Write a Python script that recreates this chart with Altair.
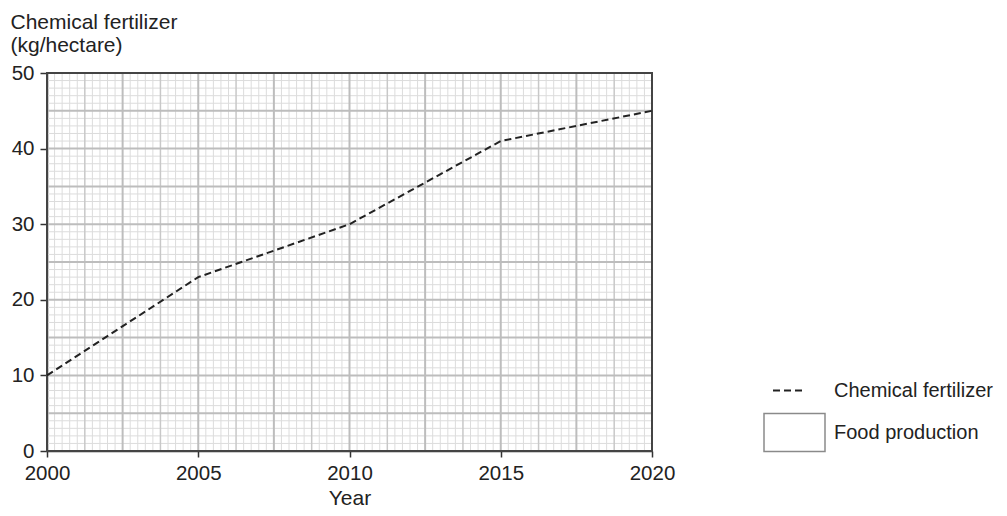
import altair as alt
import pandas as pd

# ---- data ----
years = [2000, 2005, 2010, 2015, 2020]
fertilizer = [10, 23, 30, 41, 45]
series_line = "Chemical fertilizer"
series_box = "Food production"

# axis tick labels
x_ticks = [2000, 2005, 2010, 2015, 2020]
y_ticks = [0, 10, 20, 30, 40, 50]

# graph-paper grid positions (inside the frame)
x_minor = [2000 + 0.25 * i for i in range(1, 80) if i % 5 != 0]
x_mid = [2000 + 1.25 * i for i in range(1, 16) if i % 2 != 0]
x_major = [2002.5, 2005, 2007.5, 2010, 2012.5, 2015, 2017.5]
y_minor = [v for v in range(1, 50) if v % 5 != 0]
y_major = [5, 10, 15, 20, 25, 30, 35, 40, 45]

FONT = "Liberation Sans"
INK = "#222222"
FS_NUM = 20.5
FS_TXT = 21
FS_LEG = 20

line_df = pd.DataFrame({"year": years, "value": fertilizer, "series": series_line})
box_df = pd.DataFrame({"year": [2000], "year2": [2000], "value": [0], "value2": [0],
                       "series": [series_box]})
frame_df = pd.DataFrame({"year": [x_ticks[0]], "year2": [x_ticks[-1]],
                         "value": [y_ticks[0]], "value2": [y_ticks[-1]]})

xs = alt.Scale(domain=[2000, 2020], nice=False, zero=False)
ys = alt.Scale(domain=[0, 50], nice=False)

x_axis = alt.Axis(
    values=x_ticks, format="d", grid=False,
    labelOverlap=False, labelFlush=False,
    labelFont=FONT, labelFontSize=FS_NUM, labelColor=INK, labelPadding=6,
    tickSize=6, tickWidth=1.5, tickColor="#333333",
    domainColor="#333333", domainWidth=1.5,
    title="Year", titleFont=FONT, titleFontSize=FS_TXT, titleFontWeight="normal",
    titleColor=INK, titleY=53, titleBaseline="alphabetic",
)

y_axis = alt.Axis(
    values=y_ticks, grid=False,
    labelOverlap=False, labelFlush=False,
    labelFont=FONT, labelFontSize=FS_NUM, labelColor=INK, labelPadding=6,
    tickSize=7, tickWidth=1.5, tickColor="#333333",
    domainColor="#333333", domainWidth=1.5,
    title=["Chemical fertilizer", "(kg/hectare)"],
    titleFont=FONT, titleFontSize=FS_TXT, titleFontWeight="normal", titleColor=INK,
    titleAngle=0, titleAlign="left", titleBaseline="alphabetic",
    titleX=-37, titleY=-45, titleLineHeight=23,
)


def vgrid(vals, color, width):
    return alt.Chart(pd.DataFrame({"year": vals})).mark_rule(
        color=color, strokeWidth=width
    ).encode(x=alt.X("year:Q", scale=xs, axis=x_axis))


def hgrid(vals, color, width):
    return alt.Chart(pd.DataFrame({"value": vals})).mark_rule(
        color=color, strokeWidth=width
    ).encode(y=alt.Y("value:Q", scale=ys, axis=y_axis))


grid_layers = [
    vgrid(x_minor, "#dcdcdc", 1),
    hgrid(y_minor, "#dcdcdc", 1),
    vgrid(x_mid, "#c8c8c8", 1.5),
    hgrid(y_major, "#bdbdbd", 2),
    vgrid(x_major, "#bdbdbd", 2),
]

frame = alt.Chart(frame_df).mark_rect(
    filled=False, stroke="#444444", strokeWidth=2
).encode(
    x=alt.X("year:Q", scale=xs, axis=x_axis),
    x2="year2",
    y=alt.Y("value:Q", scale=ys, axis=y_axis),
    y2="value2",
)

box = alt.Chart(box_df).mark_rect(stroke="#8a8a8a", strokeWidth=1).encode(
    x=alt.X("year:Q", scale=xs, axis=x_axis),
    x2="year2",
    y=alt.Y("value:Q", scale=ys, axis=y_axis),
    y2="value2",
    fill=alt.Fill(
        "series:N",
        scale=alt.Scale(domain=[series_box], range=["white"]),
        legend=alt.Legend(
            title=None, orient="none", legendX=716, legendY=328,
            symbolType="M-1,-0.62H1V0.62H-1Z", symbolSize=3721,
            labelOffset=8, labelLimit=400,
            labelFont=FONT, labelFontSize=FS_LEG, labelColor=INK,
        ),
    ),
)

line = alt.Chart(line_df).mark_line(color=INK, strokeWidth=2).encode(
    x=alt.X("year:Q", scale=xs, axis=x_axis),
    y=alt.Y("value:Q", scale=ys, axis=y_axis),
    strokeDash=alt.StrokeDash(
        "series:N",
        scale=alt.Scale(domain=[series_line], range=[[7, 4]]),
        legend=alt.Legend(
            title=None, orient="none", legendX=725, legendY=300,
            symbolType="stroke", symbolSize=1089, symbolStrokeWidth=2,
            labelOffset=27, labelLimit=400,
            labelFont=FONT, labelFontSize=FS_LEG, labelColor=INK,
        ),
    ),
)

chart = (
    alt.layer(*grid_layers, frame, box, line)
    .properties(
        width=605, height=378,
        autosize=alt.AutoSizeParams(type="none"),
        padding={"left": 39, "top": 65, "right": 347, "bottom": 57},
        background="white",
    )
    .configure_view(stroke=None)
)

chart.save("out.html", embed_options={"renderer": "svg", "actions": False})
